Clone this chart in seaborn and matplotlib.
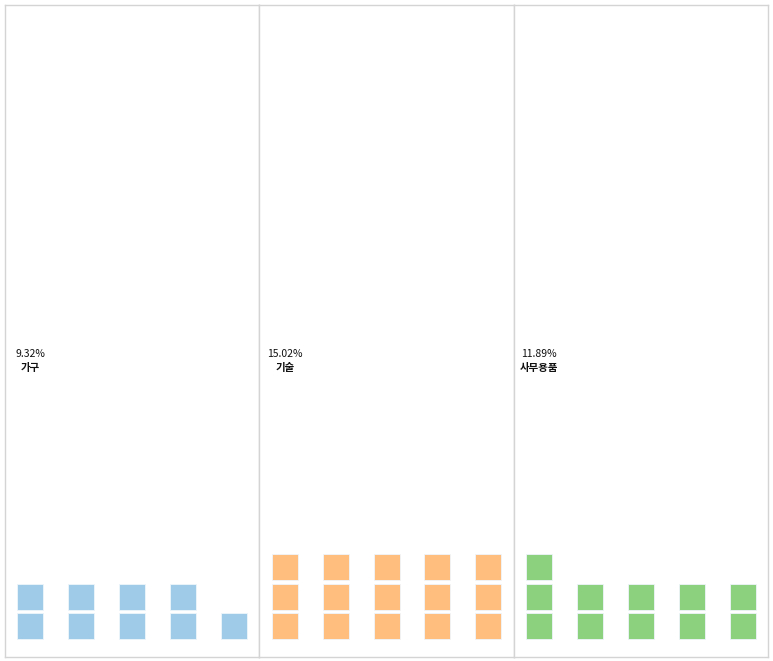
import matplotlib
matplotlib.use("Agg")
import matplotlib.pyplot as plt
import seaborn as sns
import pandas as pd

categories = ["가구", "기술", "사무용품"]
percents = [9.32, 15.02, 11.89]
pct_labels = ["9.32%", "15.02%", "11.89%"]
colors = ["#a0cbe8", "#ffbe7d", "#8cd17d"]
n_cols = 5

rows = []
for cat, p in zip(categories, percents):
    for k in range(int(p)):
        rows.append({"category": cat, "col": k % n_cols, "row": k // n_cols})
df = pd.DataFrame(rows)

sns.set_theme(style="white")
plt.rcParams["font.family"] = ["Noto Sans CJK KR", "DejaVu Sans"]

W, H = 773, 661
fig, axes = plt.subplots(1, 3, figsize=(W / 100, H / 100), dpi=100)
fig.subplots_adjust(left=5 / W, right=768 / W, top=1 - 5 / H, bottom=1 - 657 / H, wspace=0)

for ax, cat, lab, c in zip(axes, categories, pct_labels, colors):
    sub = df[df["category"] == cat]
    sns.scatterplot(data=sub, x="col", y="row", ax=ax, marker="s", s=330,
                    color=c, edgecolor="#eef5fb", linewidth=0.6, legend=False)
    ax.set_xlim(-0.5, n_cols - 0.5)
    ax.set_ylim(-1.03, 20.93)
    ax.set_xticks([])
    ax.set_yticks([])
    ax.set_xlabel("")
    ax.set_ylabel("")
    for sp in ax.spines.values():
        sp.set_color("#d4d4d4")
        sp.set_linewidth(1.0)
    ax.text(0, 0.465, lab, transform=ax.get_xaxis_transform(), ha="center", va="center",
            fontsize=7.5, fontweight="medium", color="#111111")
    ax.text(0, 0.444, cat, transform=ax.get_xaxis_transform(), ha="center", va="center",
            fontsize=7.5, fontweight="bold", color="#111111")

fig.savefig("out.png", dpi=100)
